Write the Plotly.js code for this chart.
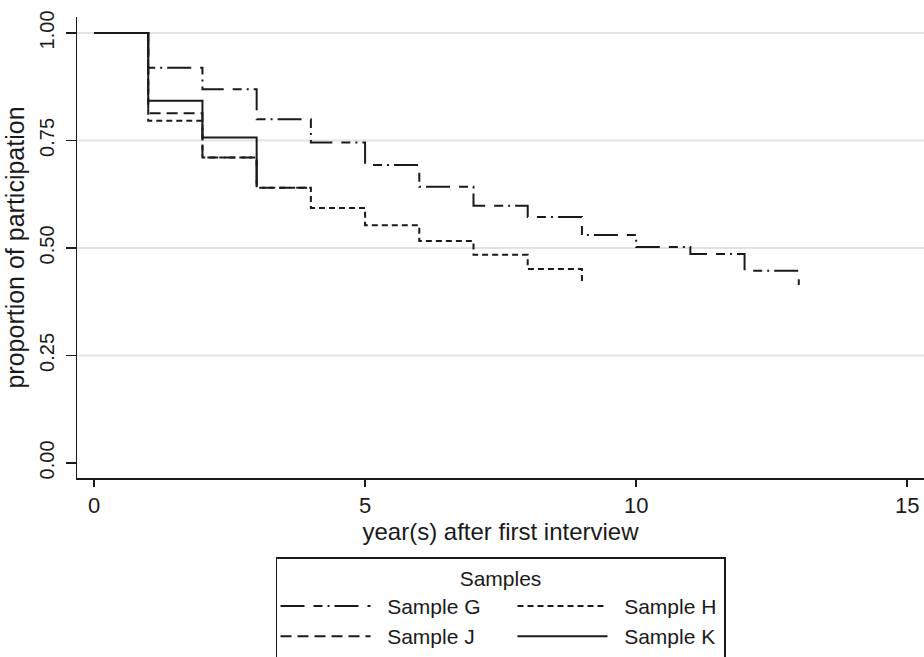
<!DOCTYPE html>
<html>
<head>
<meta charset="utf-8">
<script src="https://cdn.plot.ly/plotly-3.0.1.min.js"></script>
<style>html,body{margin:0;padding:0;background:#fff;}</style>
</head>
<body>
<div id="chart" style="width:924px;height:657px;"></div>
<script>
// ---- data ----
const yearsG = [0, 1, 2, 3, 4, 5, 6, 7, 8, 9, 10, 11, 12, 13];
const valuesG = [1.00, 0.919, 0.869, 0.799, 0.745, 0.693, 0.642, 0.598, 0.572, 0.530, 0.502, 0.486, 0.447, 0.414];
const yearsH = [0, 1, 2, 3, 4, 5, 6, 7, 8, 9];
const valuesH = [1.00, 0.796, 0.710, 0.640, 0.593, 0.553, 0.516, 0.484, 0.451, 0.419];
const yearsJ = [0, 1, 2, 3, 4];
const valuesJ = [1.00, 0.813, 0.710, 0.640, 0.640];
const yearsK = [0, 1, 2, 3];
const valuesK = [1.00, 0.842, 0.757, 0.650];
const seriesNames = ["Sample G", "Sample H", "Sample J", "Sample K"];
const xTickVals = [0, 5, 10, 15];
const yTickVals = [0, 0.25, 0.5, 0.75, 1];
const yTickText = ["0.00", "0.25", "0.50", "0.75", "1.00"];
const gridVals = [0.25, 0.5, 0.75, 1];

const FONT = "Liberation Sans, Arial, sans-serif";
const INK = "#1a1a1a";
const PAD = "\u00a0\u00a0";

function stepTrace(x, y, name, dash, group, lw) {
  return {
    x: x, y: y, name: PAD + name, type: "scatter", mode: "lines",
    line: {shape: "hv", color: INK, width: 2, dash: dash},
    legendgroup: group, legendwidth: lw, hoverinfo: "skip"
  };
}

const data = [
  stepTrace(yearsG, valuesG, seriesNames[0], "24px,9px,9px,5px,2px,5px", "c1", 132),
  stepTrace(yearsJ, valuesJ, seriesNames[2], "11px,6px", "c1", 132),
  stepTrace(yearsH, valuesH, seriesNames[1], "6px,4px", "c2", 106),
  stepTrace(yearsK, valuesK, seriesNames[3], "solid", "c2", 106)
];

const shapes = gridVals.map(v => ({
  type: "line", xref: "paper", x0: 0, x1: 1, yref: "y", y0: v, y1: v,
  line: {color: "#e3e3e3", width: 2}, layer: "below"
}));

const layout = {
  width: 924, height: 657,
  margin: {l: 77, r: 0, t: 17, b: 179, autoexpand: false},
  paper_bgcolor: "#ffffff", plot_bgcolor: "#ffffff",
  font: {family: FONT, color: INK},
  showlegend: true,
  xaxis: {
    range: [-0.314, 15.31], tickmode: "array", tickvals: xTickVals,
    ticks: "outside", ticklen: 7, tickwidth: 1.5, tickcolor: INK,
    showline: true, linecolor: INK, linewidth: 1.5,
    showgrid: false, zeroline: false,
    tickfont: {family: FONT, size: 22, color: INK},
    title: {text: "year(s) after first interview", font: {family: FONT, size: 24, color: INK}, standoff: 1}
  },
  yaxis: {
    range: [-0.035, 1.037], tickmode: "array", tickvals: yTickVals, ticktext: yTickText,
    tickangle: -90,
    ticks: "outside", ticklen: 10, tickwidth: 1.5, tickcolor: INK,
    showline: true, linecolor: INK, linewidth: 1.5,
    showgrid: false, zeroline: false,
    ticklabelstandoff: 4,
    tickfont: {family: FONT, size: 20, color: INK},
    title: {text: "proportion of participation", font: {family: FONT, size: 25, color: INK}, standoff: 4}
  },
  shapes: shapes,
  legend: {
    orientation: "h", traceorder: "grouped",
    x: 0.5, xanchor: "center", y: -0.1714, yanchor: "top",
    bordercolor: INK, borderwidth: 1.5, bgcolor: "#ffffff",
    itemwidth: 90,
    font: {family: FONT, size: 21, color: INK},
    title: {text: "Samples", side: "top center", font: {family: FONT, size: 21, color: INK}}
  }
};

Plotly.newPlot("chart", data, layout, {displayModeBar: false, staticPlot: true});
</script>
</body>
</html>
